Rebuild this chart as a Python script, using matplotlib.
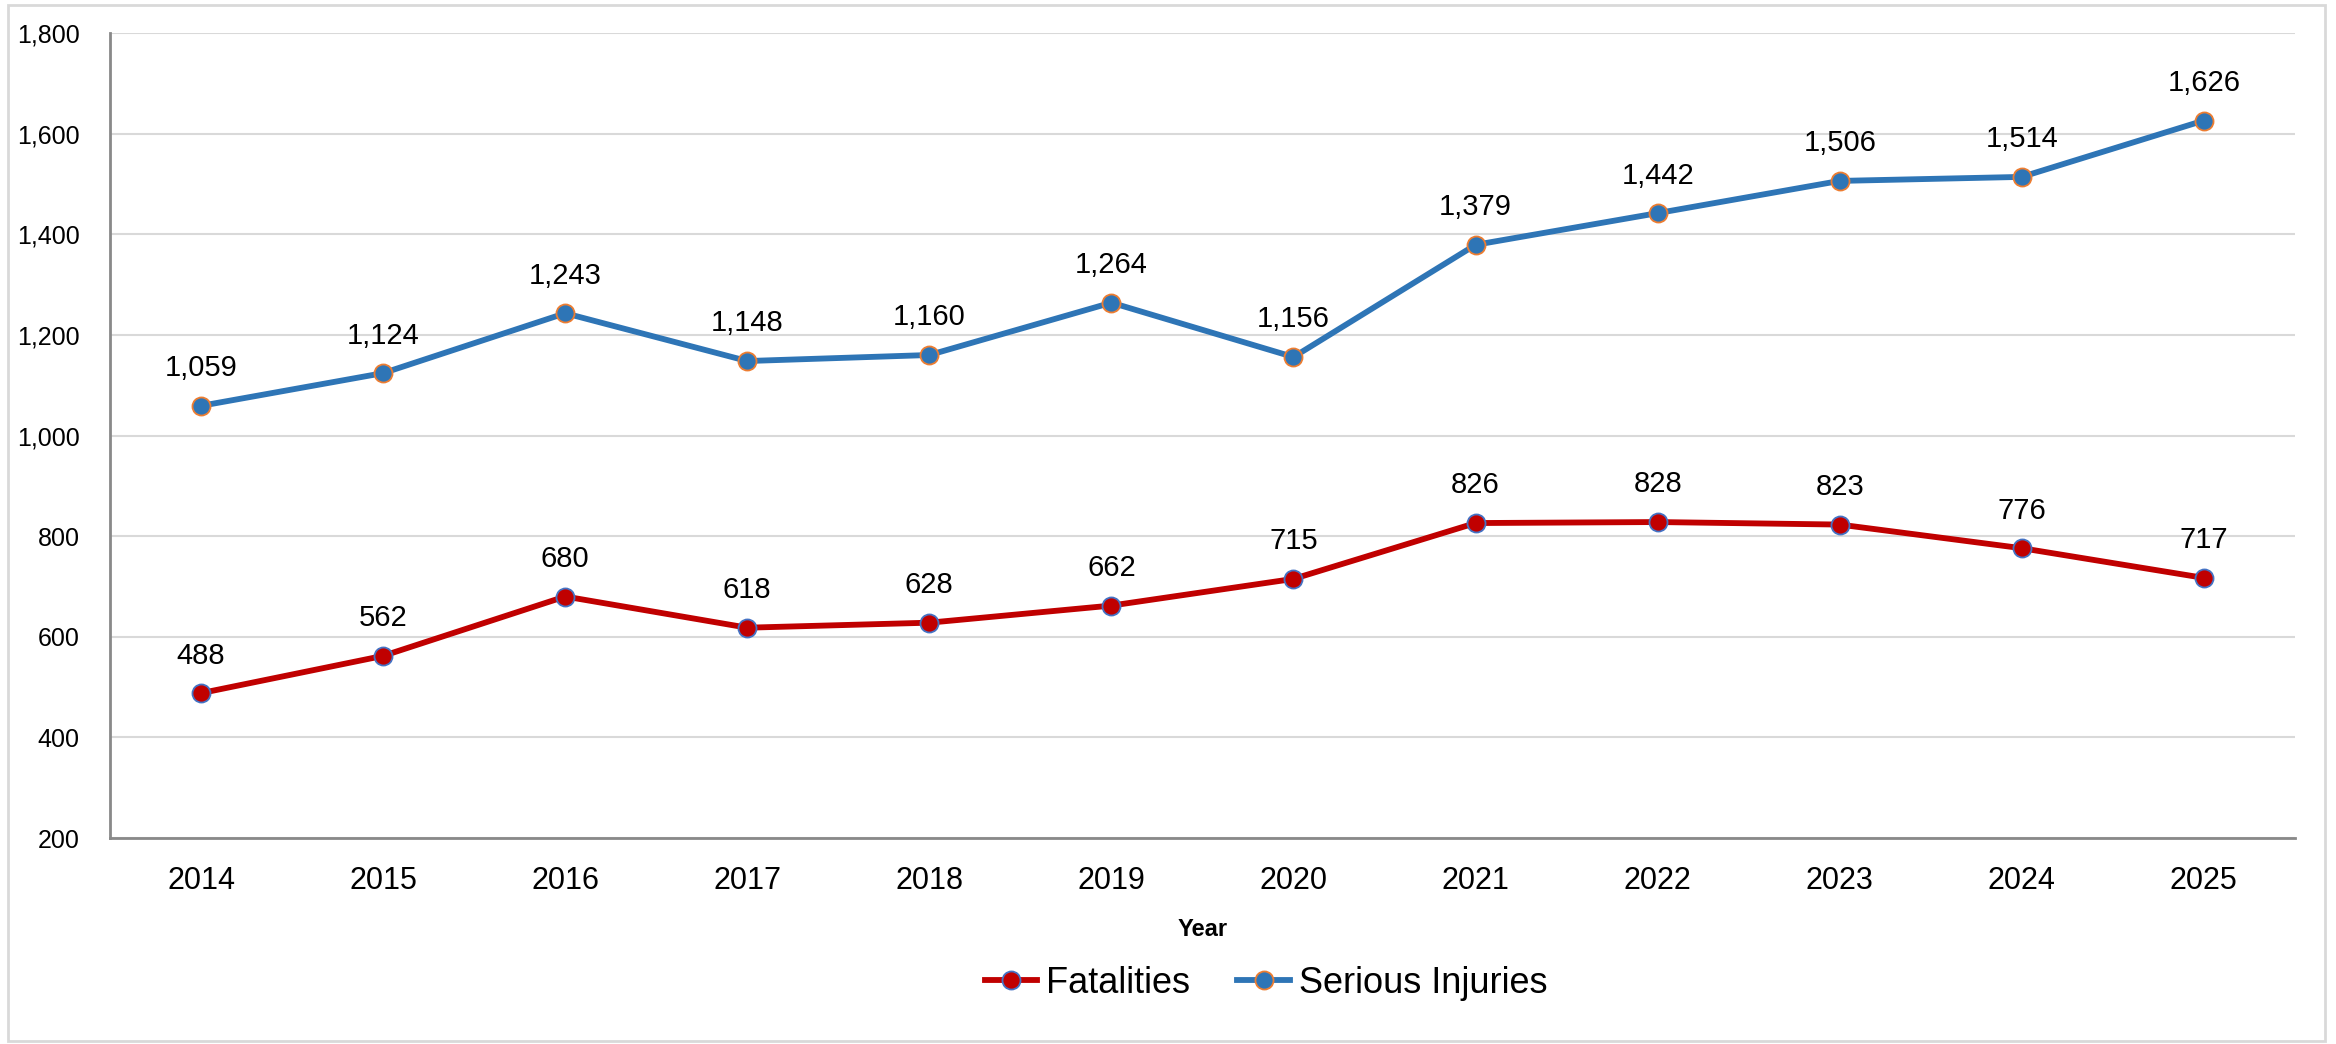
import matplotlib.pyplot as plt
from matplotlib.patches import Rectangle

# data
years = ["2014", "2015", "2016", "2017", "2018", "2019", "2020", "2021", "2022", "2023", "2024", "2025"]
fatalities = [488, 562, 680, 618, 628, 662, 715, 826, 828, 823, 776, 717]
serious_injuries = [1059, 1124, 1243, 1148, 1160, 1264, 1156, 1379, 1442, 1506, 1514, 1626]

plt.rcParams['font.family'] = ['Liberation Sans', 'DejaVu Sans']

fig = plt.figure(figsize=(23.36, 10.44), dpi=100)
ax = fig.add_axes([0.0471, 0.1973, 0.9353, 0.7711])

x = list(range(len(years)))
ax.plot(x, fatalities, color="#C00000", lw=4.2, marker="o", ms=13,
        markerfacecolor="#C00000", markeredgecolor="#4472C4", markeredgewidth=1.3,
        label="Fatalities", zorder=3)
ax.plot(x, serious_injuries, color="#2E75B6", lw=4.2, marker="o", ms=13,
        markerfacecolor="#2E75B6", markeredgecolor="#ED7D31", markeredgewidth=1.3,
        label="Serious Injuries", zorder=3)

# data labels above points
for xi, v in zip(x, fatalities):
    ax.annotate(f"{v:,}", (xi, v), xytext=(0, 17), textcoords="offset points",
                ha="center", va="bottom", fontsize=21, color="black")
for xi, v in zip(x, serious_injuries):
    ax.annotate(f"{v:,}", (xi, v), xytext=(0, 17), textcoords="offset points",
                ha="center", va="bottom", fontsize=21, color="black")

ax.set_xlim(-0.5, len(years) - 0.5)
ax.set_ylim(200, 1800)
ax.set_yticks(range(200, 1801, 200))
ax.set_yticklabels([f"{t:,}" for t in range(200, 1801, 200)], fontsize=18)
ax.set_xticks(x)
ax.set_xticklabels(years, fontsize=22)
ax.tick_params(length=0)
ax.tick_params(axis="x", pad=20)
ax.tick_params(axis="y", pad=22)
ax.grid(axis="y", color="#D9D9D9", lw=1.5)
ax.set_axisbelow(True)
for s in ["top", "right"]:
    ax.spines[s].set_visible(False)
for s in ["left", "bottom"]:
    ax.spines[s].set_color("#898989")
    ax.spines[s].set_linewidth(2)

ax.set_xlabel("Year", fontsize=17, fontweight="bold", labelpad=16)

leg = fig.legend(loc="center", bbox_to_anchor=(0.542, 0.058), ncol=2, frameon=False,
                 prop={"size": 26}, handlelength=1.45, columnspacing=1.3,
                 handletextpad=0.25)

# light border around the chart
fig.patches.append(Rectangle((0.0035, 0.003), 0.992, 0.992, transform=fig.transFigure,
                             fill=False, edgecolor="#D9D9D9", lw=2))

fig.savefig("out.png", dpi=100)
